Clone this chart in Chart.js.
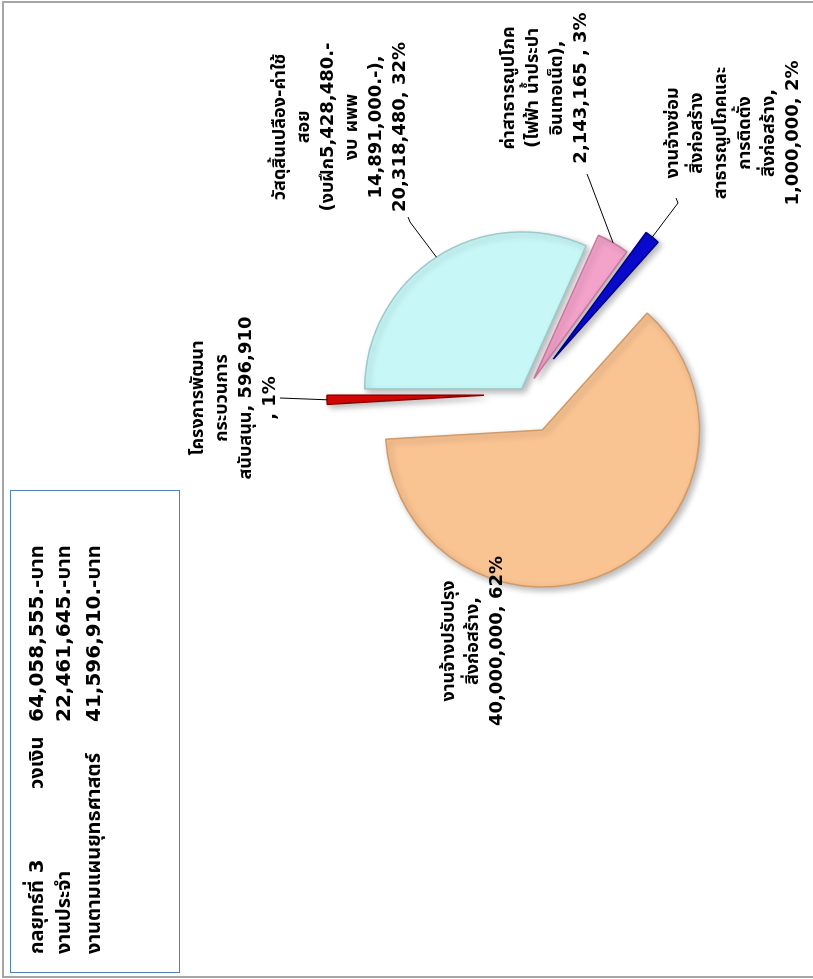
<!DOCTYPE html>
<html lang="th">
<head>
<meta charset="UTF-8">
<title>กลยุทธ์ที่ 3</title>
<script src="https://cdn.jsdelivr.net/npm/chart.js"></script>
<style>
  html, body { margin: 0; padding: 0; background: #fff; overflow: hidden; }
  /* the whole sheet is laid out landscape, then turned a quarter to the left */
  #page {
    position: absolute; left: 0; top: 0; width: 979px; height: 813px;
    transform-origin: 0 0; transform: translateY(979px) rotate(-90deg);
  }
  #frame {
    position: absolute; left: 1px; top: 2px; width: 973px; height: 840px;
    border: 2px solid #a6a6a6; border-bottom: none;
  }
  #pie { position: absolute; left: 0; top: 0; }
  #box {
    position: absolute; left: 6px; top: 10px; width: 481px; height: 168px;
    border: 1.5px solid #4f81bd; background: #fff;
    font: bold 20px "DejaVu Sans", "Noto Sans Thai", "Noto Sans Thai UI", Loma, Garuda, sans-serif;
    color: #000;
  }
  #box span { position: absolute; white-space: pre; line-height: 24px; }
</style>
</head>
<body>
<div id="page">
  <div id="frame"></div>
  <canvas id="pie" width="979" height="813"></canvas>
  <div id="box"></div>
</div>
<script>
// budget split of strategy 3
const categories = [
  'วัสดุสิ้นเปลือง-ค่าใช้สอย',
  'ค่าสาธารณูปโภค',
  'งานจ้างซ่อมสิ่งก่อสร้าง',
  'งานจ้างปรับปรุงสิ่งก่อสร้าง',
  'โครงการพัฒนากระบวนการสนับสนุน'
];
const amounts = [20318480, 2143165, 1000000, 40000000, 596910];

// wrapped data labels, {v} = amount, {p} = percent
const labelLines = [
  ['วัสดุสิ้นเปลือง-ค่าใช้', 'สอย', '(งบฝึก5,428,480.-', 'งบ ผพพ', '14,891,000.-),', '{v}, {p}%'],
  ['ค่าสาธารณูปโภค', '(ไฟฟ้า น้ำประปา', 'อินเทอเน็ต),', '{v} , {p}%'],
  ['งานจ้างซ่อม', 'สิ่งก่อสร้าง', 'สาธารณูปโภคและ', 'การติดตั้ง', 'สิ่งก่อสร้าง,', '{v}, {p}%'],
  ['งานจ้างปรับปรุง', 'สิ่งก่อสร้าง,', '{v}, {p}%'],
  ['โครงการพัฒนา', 'กระบวนการ', 'สนับสนุน, {v}', ', {p}%']
];

// summary box
const boxHeads = ['กลยุทธ์ที่ 3', 'งานประจำ', 'งานตามแผนยุทธศาสตร์'];
const boxMid = ['วงเงิน', '', ''];
const boxValues = ['64,058,555.-บาท', '22,461,645.-บาท', '41,596,910.-บาท'];

// styling
const sliceColors = ['#c8f7f7', '#f3a2ca', '#0a0ad4', '#f9c392', '#dc0606'];
const sliceEdges = ['#9cc9c9', '#c9779f', '#00008a', '#d29a68', '#8e0000'];
const explode = [6, 18, 45, 40, 41];
const labelPos = [[852, 340], [891, 545], [846, 733], [338, 473], [581, 234]];
const leaderEnd = [[762, 408], [805, 587], [781, 676], null, [581, 280]];
const labelFont = 'bold 18px "DejaVu Sans", "Noto Sans Thai", "Noto Sans Thai UI", Loma, Garuda, sans-serif';

const fmt = n => n.toLocaleString('en-US');
const total = amounts.reduce((a, b) => a + b, 0);

// summary box text
const box = document.getElementById('box');
const rowY = [13, 40, 70];
boxHeads.forEach((t, i) => {
  const cells = [[t, 18], [boxMid[i], 183], [boxValues[i], 250]];
  cells.forEach(([txt, x]) => {
    if (!txt) return;
    const s = document.createElement('span');
    s.textContent = txt;
    s.style.left = x + 'px';
    s.style.top = rowY[i] + 'px';
    box.appendChild(s);
  });
});

// pull the slices out of the centre along their middle angle
const explodePlugin = {
  id: 'explode',
  afterDatasetUpdate(chart, args) {
    const a = chart.chartArea;
    const cx = (a.left + a.right) / 2, cy = (a.top + a.bottom) / 2;
    chart.getDatasetMeta(args.index).data.forEach((arc, i) => {
      const mid = (arc.startAngle + arc.endAngle) / 2;
      arc.x = cx + Math.cos(mid) * explode[i];
      arc.y = cy + Math.sin(mid) * explode[i];
    });
  },
  beforeDatasetsDraw(chart) {
    const ctx = chart.ctx;
    ctx.save();
    ctx.shadowColor = 'rgba(0,0,0,0.28)';
    ctx.shadowBlur = 6;
    ctx.shadowOffsetX = -3;
    ctx.shadowOffsetY = 3;
  },
  afterDatasetsDraw(chart) {
    chart.ctx.restore();
  }
};

const labelPlugin = {
  id: 'sliceLabels',
  afterDraw(chart) {
    const ctx = chart.ctx;
    const arcs = chart.getDatasetMeta(0).data;
    ctx.save();
    // leader lines
    ctx.strokeStyle = '#000';
    ctx.lineWidth = 1;
    arcs.forEach((arc, i) => {
      const end = leaderEnd[i];
      if (!end) return;
      const mid = (arc.startAngle + arc.endAngle) / 2;
      const r = arc.outerRadius;
      const sx = arc.x + Math.cos(mid) * r, sy = arc.y + Math.sin(mid) * r;
      ctx.beginPath();
      ctx.moveTo(sx, sy);
      if (i === 4) {
        ctx.lineTo(end[0], end[1]);
      } else {
        ctx.lineTo(end[0] - 5, end[1] + 2);
        ctx.lineTo(end[0], end[1]);
      }
      ctx.stroke();
    });
    // texts
    ctx.fillStyle = '#000';
    ctx.font = labelFont;
    ctx.textAlign = 'center';
    ctx.textBaseline = 'middle';
    const lh = 24;
    labelLines.forEach((lines, i) => {
      const pct = Math.round(amounts[i] / total * 100);
      const [x, y] = labelPos[i];
      const top = y - (lines.length - 1) * lh / 2;
      lines.forEach((l, k) => {
        const txt = l.replace('{v}', fmt(amounts[i])).replace('{p}', pct);
        ctx.fillText(txt, x, top + k * lh);
      });
    });
    ctx.restore();
  }
};

new Chart(document.getElementById('pie'), {
  type: 'pie',
  data: {
    labels: categories,
    datasets: [{
      data: amounts,
      backgroundColor: sliceColors,
      borderColor: sliceEdges,
      borderWidth: 1.5,
      radius: 157
    }]
  },
  options: {
    responsive: false,
    animation: false,
    events: [],
    layout: { padding: { left: 250, right: 59, top: 300, bottom: 63 } },
    plugins: {
      legend: { display: false },
      tooltip: { enabled: false }
    }
  },
  plugins: [explodePlugin, labelPlugin]
});
</script>
</body>
</html>
